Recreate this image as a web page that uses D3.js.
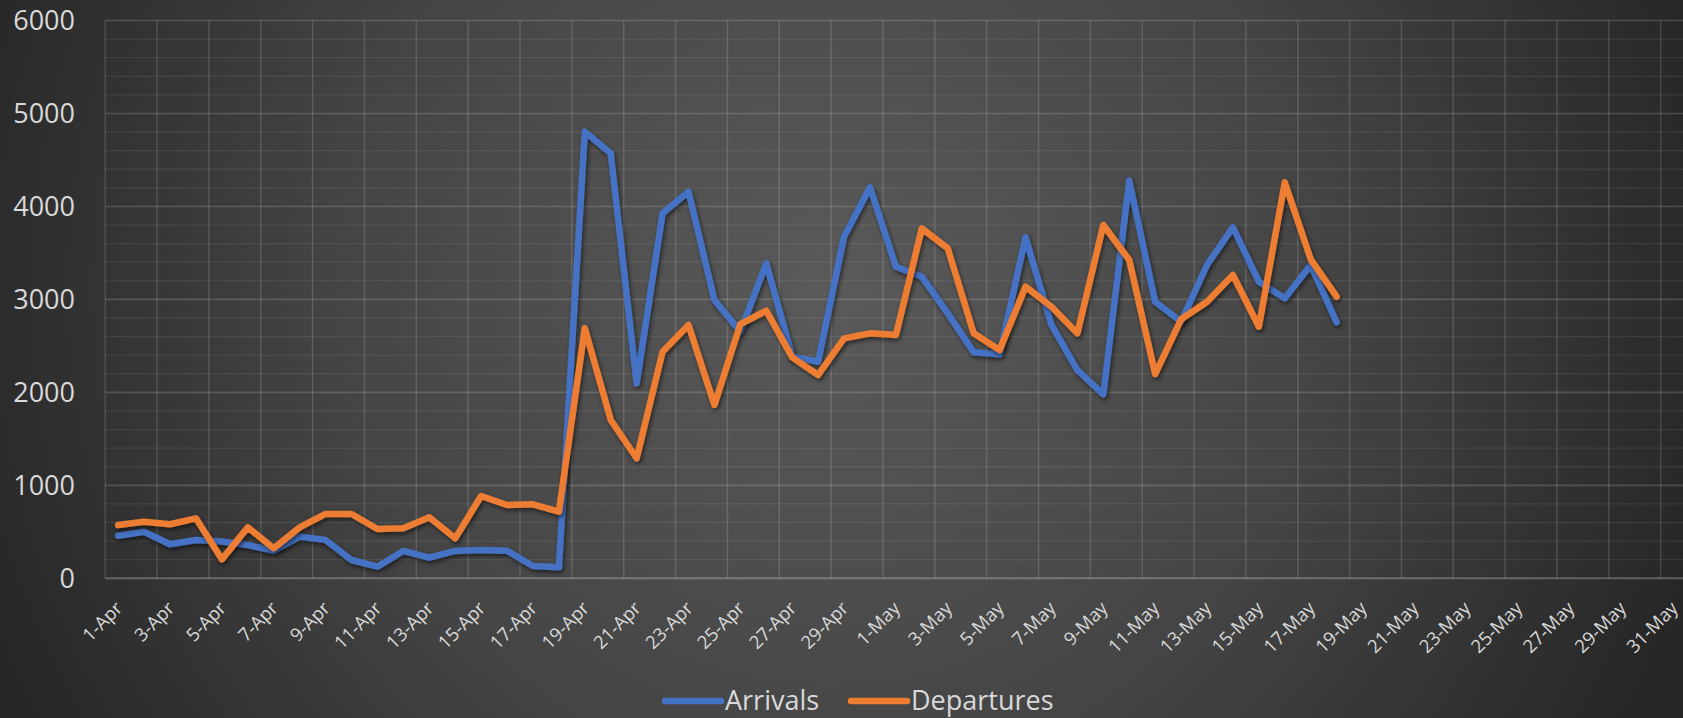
<!DOCTYPE html>
<html><head><meta charset="utf-8">
<script src="https://cdn.jsdelivr.net/npm/d3@7"></script>
<style>html,body{margin:0;padding:0;background:#2b2b2b;overflow:hidden}svg{display:block}</style>
</head><body><svg id="c" width="1683" height="718"></svg>
<script>
// ---- data ----
const dataDays = ["1-Apr","2-Apr","3-Apr","4-Apr","5-Apr","6-Apr","7-Apr","8-Apr","9-Apr","10-Apr",
  "11-Apr","12-Apr","13-Apr","14-Apr","15-Apr","16-Apr","17-Apr","18-Apr","19-Apr","20-Apr",
  "21-Apr","22-Apr","23-Apr","24-Apr","25-Apr","26-Apr","27-Apr","28-Apr","29-Apr","30-Apr",
  "1-May","2-May","3-May","4-May","5-May","6-May","7-May","8-May","9-May","10-May",
  "11-May","12-May","13-May","14-May","15-May","16-May","17-May","18-May"];
const arrivals = [458,501,366,412,395,358,297,448,412,197,
  125,294,222,294,304,297,132,118,4804,4571,
  2097,3926,4158,2993,2653,3388,2384,2330,3674,4206,
  3352,3244,2850,2431,2409,3668,2725,2240,1979,4277,
  2975,2760,3370,3775,3190,3012,3370,2753];
const departures = [573,609,581,645,204,548,323,548,692,692,
  530,538,656,430,885,788,796,716,2689,1703,
  1291,2437,2725,1864,2735,2878,2377,2187,2581,2635,
  2617,3764,3549,2635,2456,3137,2921,2635,3800,3424,
  2197,2786,2975,3262,2706,4259,3431,3029];
const tickLabels = ["1-Apr","3-Apr","5-Apr","7-Apr","9-Apr","11-Apr","13-Apr","15-Apr","17-Apr","19-Apr",
  "21-Apr","23-Apr","25-Apr","27-Apr","29-Apr","1-May","3-May","5-May","7-May","9-May",
  "11-May","13-May","15-May","17-May","19-May","21-May","23-May","25-May","27-May","29-May","31-May"];
const yTicks = [0,1000,2000,3000,4000,5000,6000];
const seriesNames = ["Arrivals","Departures"];
const seriesColors = ["#4472C4","#ED7D31"];

// ---- axis domain: every day 1-Apr .. 31-May ----
const fmt = d3.timeFormat("%-d-%b");
const axisDays = d3.timeDay.range(new Date(2020,3,1), new Date(2020,5,1)).map(fmt);

const W = 1683, H = 718;
const plotLeft = 105.2, dayW = 25.925;
const plotTop = 20.5, plotBottom = 578.3;
const svg = d3.select("#c");
const defs = svg.append("defs");

const rg = defs.append("radialGradient").attr("id","bg").attr("gradientUnits","userSpaceOnUse")
  .attr("cx",830).attr("cy",290).attr("r",900);
rg.append("stop").attr("offset","0").attr("stop-color","#5a5a5a");
rg.append("stop").attr("offset","0.55").attr("stop-color","#444444");
rg.append("stop").attr("offset","1").attr("stop-color","#272727");
svg.append("rect").attr("width",W).attr("height",H).attr("fill","url(#bg)");

const f = defs.append("filter").attr("id","sh").attr("x","-5%").attr("y","-5%").attr("width","110%").attr("height","120%");
f.append("feDropShadow").attr("dx",1.5).attr("dy",2.5).attr("stdDeviation",2.2)
  .attr("flood-color","#000").attr("flood-opacity",0.55);

const x = d3.scaleBand().domain(axisDays).range([plotLeft, plotLeft + axisDays.length*dayW]).padding(0);
const y = d3.scaleLinear().domain([0,6000]).range([plotBottom, plotTop]);
const xRight = plotLeft + axisDays.length*dayW;

const g = svg.append("g");
g.selectAll(".minor").data(d3.range(200,6000,200).filter(v=>v%1000!==0)).join("line")
  .attr("x1",plotLeft).attr("x2",xRight).attr("y1",d=>y(d)).attr("y2",d=>y(d))
  .attr("stroke","rgba(255,255,255,0.075)").attr("stroke-width",1.3);
g.selectAll(".major").data(yTicks.filter(v=>v>0)).join("line")
  .attr("x1",plotLeft).attr("x2",xRight).attr("y1",d=>y(d)).attr("y2",d=>y(d))
  .attr("stroke","rgba(255,255,255,0.16)").attr("stroke-width",1.6);
g.selectAll(".vg").data(tickLabels).join("line")
  .attr("x1",d=>x(d)).attr("x2",d=>x(d)).attr("y1",plotTop).attr("y2",plotBottom)
  .attr("stroke","rgba(255,255,255,0.14)").attr("stroke-width",1.5);
g.append("line").attr("x1",plotLeft).attr("x2",xRight).attr("y1",plotBottom).attr("y2",plotBottom)
  .attr("stroke","rgba(255,255,255,0.25)").attr("stroke-width",2);

svg.append("g").selectAll("text").data(yTicks).join("text")
  .attr("x",75).attr("y",d=>y(d)).attr("dy","0.36em").attr("text-anchor","end")
  .attr("font-family","'Open Sans', 'Noto Sans', sans-serif").attr("font-size",27)
  .attr("fill","#d9d9d9").text(d=>d);

svg.append("g").selectAll("text").data(tickLabels).join("text")
  .attr("transform",d=>`translate(${x(d)+x.bandwidth()/2+5.5},${609.5}) rotate(-45)`)
  .attr("text-anchor","end")
  .attr("font-family","'Open Sans', 'Noto Sans', sans-serif").attr("font-size",18.5)
  .attr("fill","#d9d9d9").text(d=>d);

const line = d3.line().x(d=>x(d[0])+x.bandwidth()/2).y(d=>y(d[1]));
[arrivals, departures].forEach((vals,i)=>{
  svg.append("path").datum(dataDays.map((d,j)=>[d, vals[j]]))
    .attr("d",line).attr("fill","none").attr("stroke",seriesColors[i])
    .attr("stroke-width",6.5).attr("stroke-linejoin","round").attr("stroke-linecap","round")
    .attr("filter","url(#sh)");
});

const legX = [665, 851];
const lg = svg.append("g");
seriesNames.forEach((n,i)=>{
  lg.append("line").attr("x1",legX[i]).attr("x2",legX[i]+56).attr("y1",701).attr("y2",701)
    .attr("stroke",seriesColors[i]).attr("stroke-width",6.5).attr("stroke-linecap","round");
  lg.append("text").attr("x",legX[i]+60).attr("y",710)
    .attr("font-family","'Open Sans', 'Noto Sans', sans-serif").attr("font-size",27)
    .attr("fill","#d9d9d9").text(n);
});
</script></body></html>
